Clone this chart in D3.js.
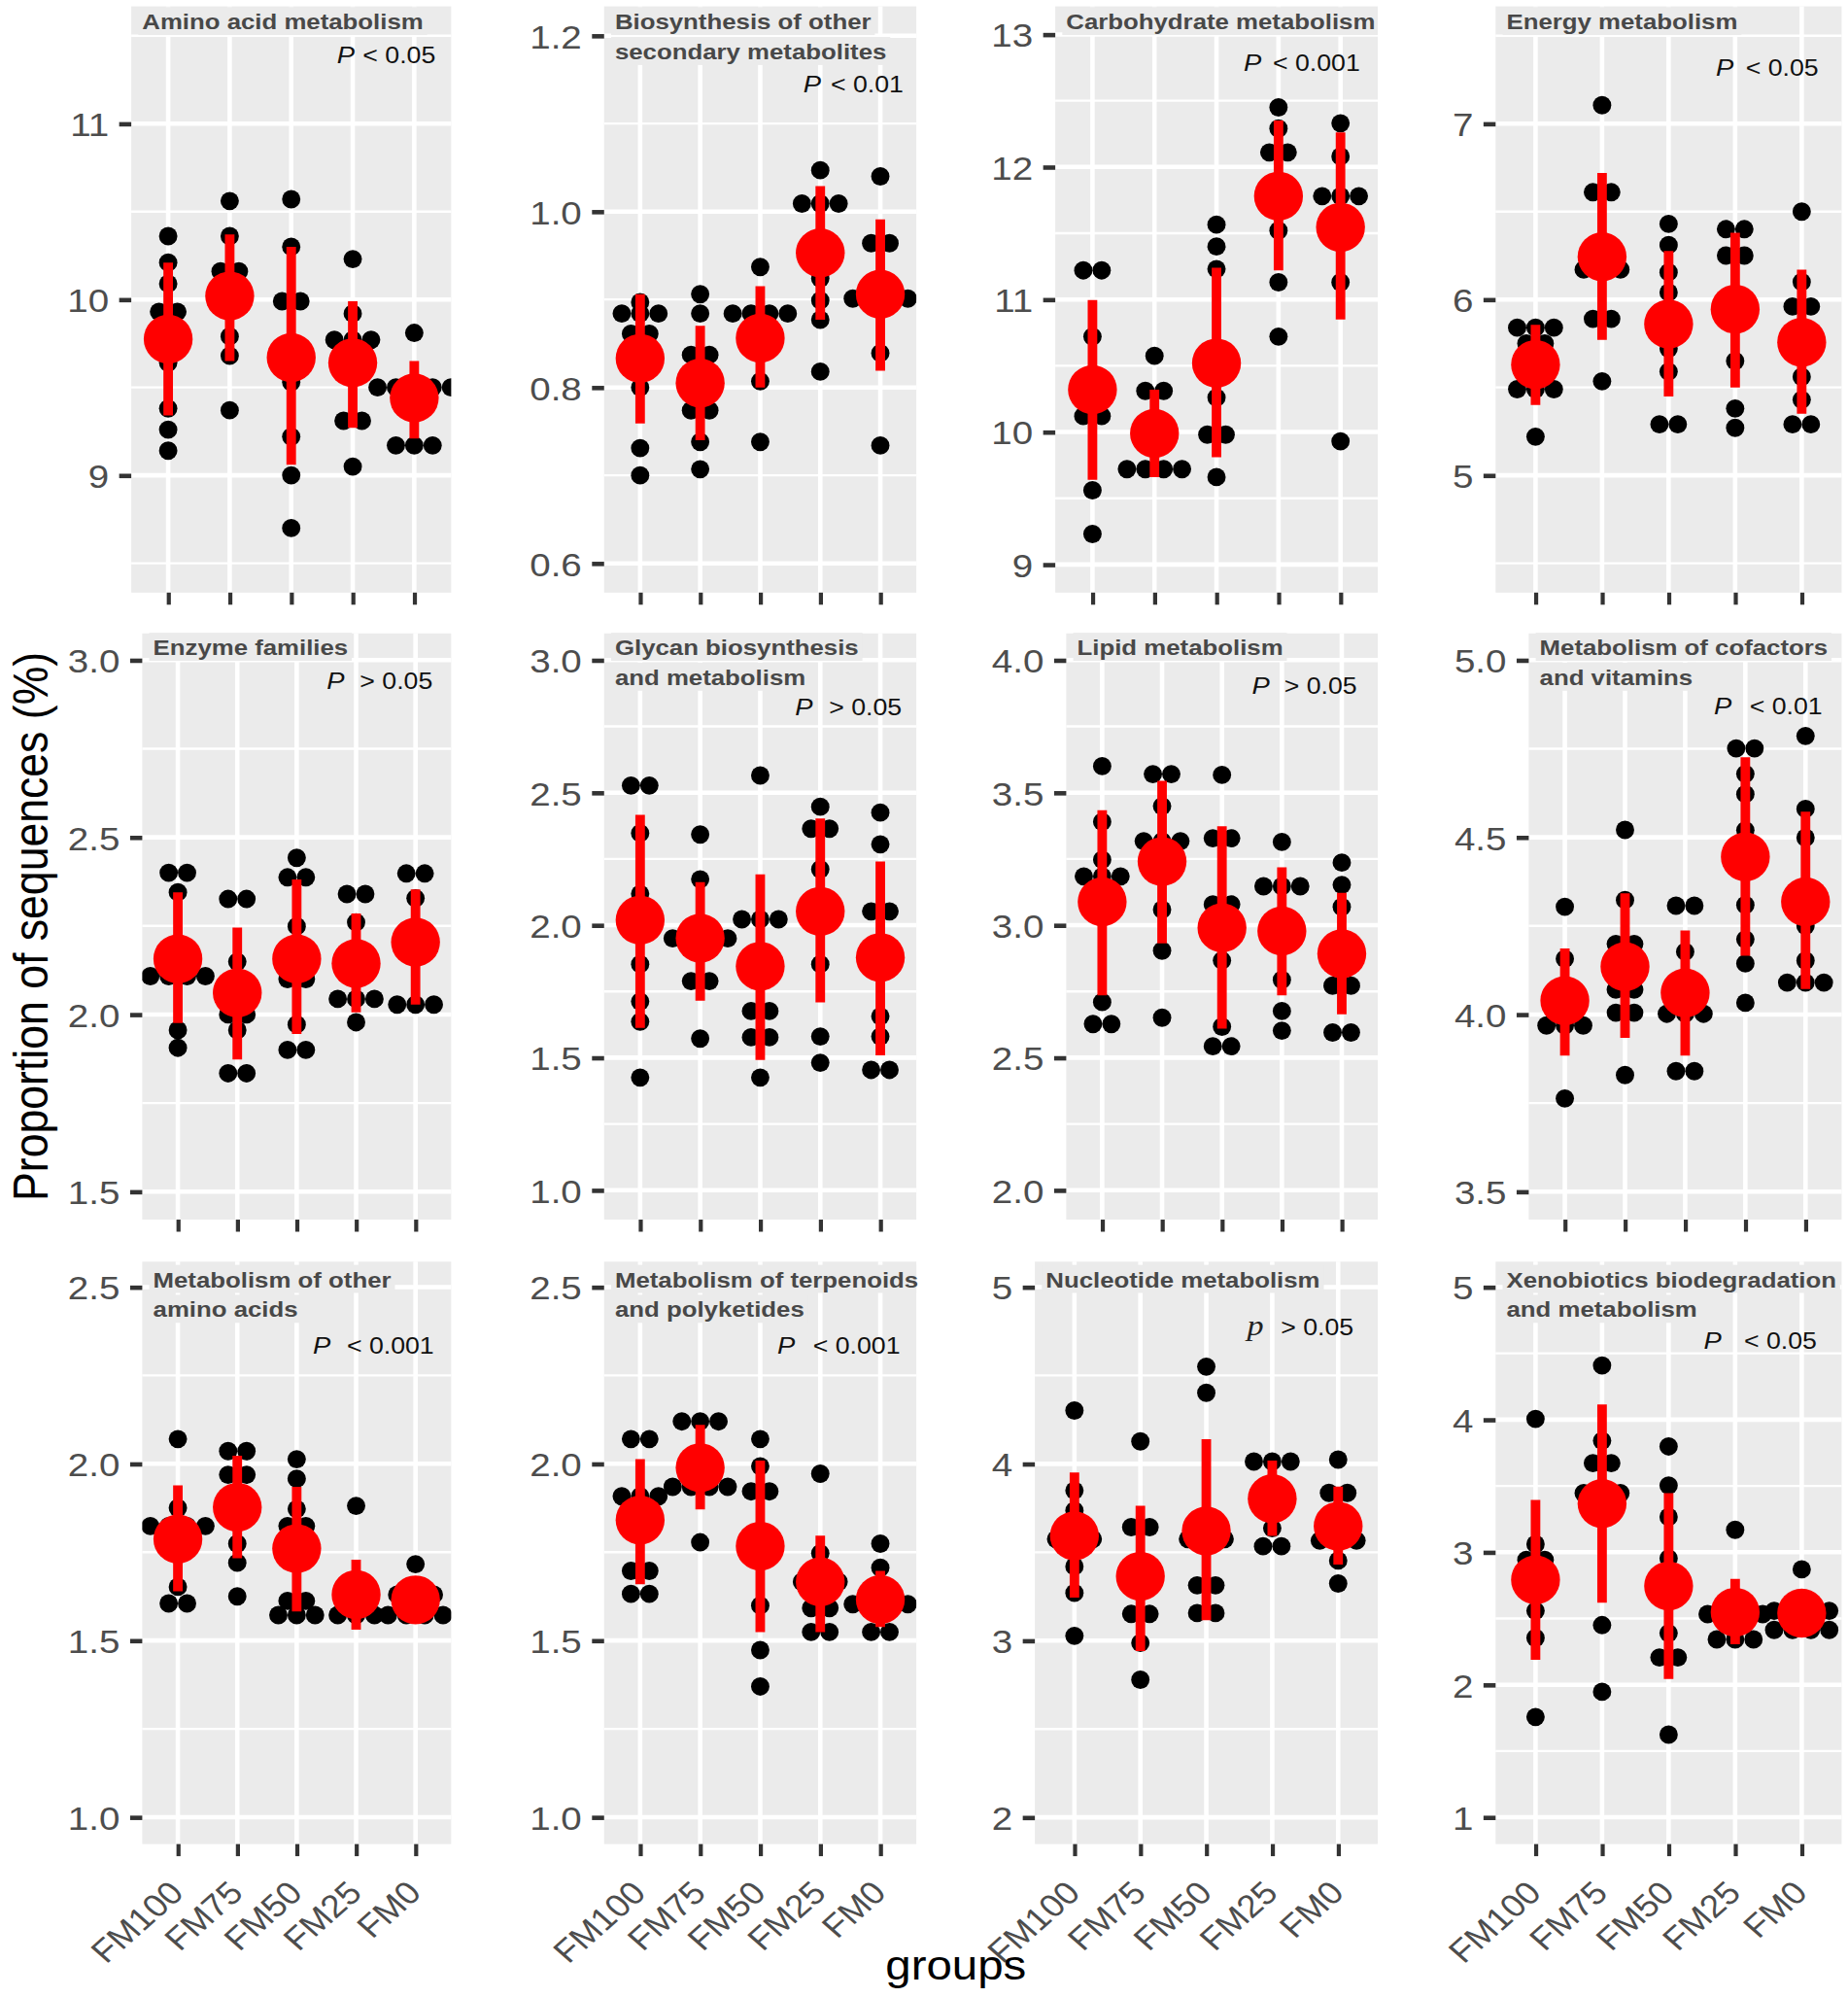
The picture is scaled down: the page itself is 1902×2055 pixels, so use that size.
<!DOCTYPE html>
<html>
<head>
<meta charset="utf-8">
<script src="https://cdn.jsdelivr.net/npm/d3@7"></script>
<style>
html, body { margin: 0; padding: 0; background: #fff; }
svg { display: block; }
text { font-family: "Liberation Sans", Arial, Helvetica, sans-serif; }
</style>
</head>
<body>
<svg id="chart"></svg>
<script>
// groups on the x axis
var groups = ["FM100", "FM75", "FM50", "FM25", "FM0"];

var titles = [
    ["Amino acid metabolism"],
    ["Biosynthesis of other", "secondary metabolites"],
    ["Carbohydrate metabolism"],
    ["Energy metabolism"],
    ["Enzyme families"],
    ["Glycan biosynthesis", "and metabolism"],
    ["Lipid metabolism"],
    ["Metabolism of cofactors", "and vitamins"],
    ["Metabolism of other", "amino acids"],
    ["Metabolism of terpenoids", "and polyketides"],
    ["Nucleotide metabolism"],
    ["Xenobiotics biodegradation", "and metabolism"]
];
var pSymbols = ["P", "P", "P", "P", "P", "P", "P", "P", "P", "P", "p", "P"];
var pTexts = ["< 0.05", "< 0.01", "< 0.001", "< 0.05", "> 0.05", "> 0.05",
              "> 0.05", "< 0.01", "< 0.001", "< 0.001", "> 0.05", "< 0.05"];

var yTickLabels = [
    ["9", "10", "11"], ["0.6", "0.8", "1.0", "1.2"], ["9", "10", "11", "12", "13"], ["5", "6", "7"],
    ["1.5", "2.0", "2.5", "3.0"], ["1.0", "1.5", "2.0", "2.5", "3.0"], ["2.0", "2.5", "3.0", "3.5", "4.0"], ["3.5", "4.0", "4.5", "5.0"],
    ["1.0", "1.5", "2.0", "2.5"], ["1.0", "1.5", "2.0", "2.5"], ["2", "3", "4", "5"], ["1", "2", "3", "4", "5"]
];
var yLimits = [
    [8.333, 11.667], [0.5667, 1.2333], [8.788, 13.212], [4.333, 7.667],
    [1.421, 3.0755], [0.889, 3.101], [1.889, 4.101], [3.421, 5.0755],
    [0.924, 2.572], [0.924, 2.572], [1.849, 5.144], [0.798, 5.192]
];

// dots: one list per group, equal values share a stack row
var aminoDots = [
    [10.36, 10.21, 10.09, 9.93, 9.93, 9.8, 9.64, 9.38, 9.26, 9.14],
    [10.56, 10.36, 10.16, 10.16, 10.03, 10.03, 9.79, 9.68, 9.37],
    [10.57, 10.30, 9.99, 9.99, 9.7, 9.7, 9.53, 9.22, 9.0, 8.70],
    [10.23, 9.92, 9.77, 9.77, 9.77, 9.62, 9.62, 9.31, 9.31, 9.05],
    [9.81, 9.50, 9.50, 9.50, 9.50, 9.50, 9.17, 9.17, 9.17]
];
var aminoMean = [9.775, 10.02, 9.67, 9.64, 9.44];
var aminoLo = [9.34, 9.65, 9.06, 9.27, 9.21];
var aminoHi = [10.21, 10.37, 10.30, 9.99, 9.65];

var bioDots = [
    [0.897, 0.884, 0.884, 0.884, 0.861, 0.861, 0.80, 0.731, 0.70],
    [0.906, 0.884, 0.837, 0.837, 0.805, 0.774, 0.774, 0.738, 0.707],
    [0.937, 0.884, 0.884, 0.884, 0.884, 0.855, 0.855, 0.807, 0.738],
    [1.047, 1.009, 1.009, 1.009, 0.95, 0.924, 0.899, 0.877, 0.818],
    [1.04, 0.964, 0.964, 0.901, 0.901, 0.901, 0.901, 0.839, 0.734]
];
var bioMean = [0.833, 0.805, 0.856, 0.953, 0.906];
var bioLo = [0.759, 0.740, 0.80, 0.877, 0.819];
var bioHi = [0.906, 0.870, 0.915, 1.029, 0.991];

var carbDots = [
    [11.22, 11.22, 10.72, 10.3, 10.12, 10.12, 9.56, 9.23],
    [10.575, 10.31, 10.31, 10.0, 9.72, 9.72, 9.72, 9.72],
    [11.565, 11.40, 11.23, 10.5, 10.26, 9.98, 9.98, 9.66],
    [12.45, 12.29, 12.11, 12.11, 11.78, 11.52, 11.13, 10.72],
    [12.33, 12.08, 11.78, 11.78, 11.78, 11.13, 9.93]
];
var carbMean = [10.32, 9.99, 10.52, 11.78, 11.545];
var carbLo = [9.64, 9.66, 9.81, 11.22, 10.85];
var carbHi = [10.995, 10.32, 11.24, 12.35, 12.26];

var energyDots = [
    [5.84, 5.84, 5.84, 5.75, 5.75, 5.49, 5.49, 5.49, 5.22],
    [7.105, 6.61, 6.61, 6.17, 6.17, 6.17, 5.89, 5.89, 5.535],
    [6.43, 6.31, 6.155, 6.04, 5.86, 5.72, 5.59, 5.29, 5.29],
    [6.40, 6.40, 6.25, 6.25, 5.94, 5.65, 5.38, 5.27],
    [6.50, 6.10, 5.96, 5.96, 5.757, 5.56, 5.43, 5.29, 5.29]
];
var energyMean = [5.63, 6.243, 5.86, 5.945, 5.757];
var energyLo = [5.40, 5.77, 5.448, 5.50, 5.35];
var energyHi = [5.856, 6.72, 6.276, 6.38, 6.17];

var enzymeDots = [
    [2.40, 2.40, 2.345, 2.108, 2.108, 2.108, 2.108, 1.956, 1.906],
    [2.326, 2.326, 2.149, 2.06, 2.0, 2.0, 1.956, 1.834, 1.834],
    [2.442, 2.387, 2.387, 2.249, 2.10, 2.10, 1.972, 1.90, 1.90],
    [2.34, 2.34, 2.26, 2.144, 2.044, 2.044, 2.044, 1.978],
    [2.398, 2.398, 2.328, 2.2, 2.028, 2.028, 2.028]
];
var enzymeMean = [2.157, 2.061, 2.157, 2.144, 2.204];
var enzymeLo = [1.976, 1.873, 1.945, 2.006, 2.028];
var enzymeHi = [2.345, 2.245, 2.381, 2.285, 2.353];

var glycanDots = [
    [2.527, 2.527, 2.347, 2.118, 2.0, 1.853, 1.712, 1.636, 1.425],
    [2.342, 2.173, 1.95, 1.95, 1.95, 1.95, 1.789, 1.789, 1.572],
    [2.565, 2.022, 2.022, 2.022, 1.845, 1.676, 1.676, 1.577, 1.577, 1.425],
    [2.447, 2.364, 2.364, 2.211, 2.05, 1.853, 1.58, 1.481],
    [2.425, 2.305, 2.052, 2.052, 1.878, 1.656, 1.58, 1.454, 1.454]
];
var glycanMean = [2.019, 1.951, 1.845, 2.052, 1.878];
var glycanLo = [1.612, 1.715, 1.491, 1.709, 1.509];
var glycanHi = [2.416, 2.162, 2.192, 2.403, 2.24];

var lipidDots = [
    [3.60, 3.39, 3.247, 3.184, 3.184, 3.184, 2.71, 2.627, 2.627],
    [3.57, 3.57, 3.449, 3.317, 3.317, 3.317, 3.24, 3.059, 2.904, 2.651],
    [3.567, 3.328, 3.328, 3.078, 3.078, 2.99, 2.867, 2.617, 2.543, 2.543],
    [3.314, 3.147, 3.147, 3.147, 2.978, 2.794, 2.676, 2.602],
    [3.236, 3.152, 3.069, 2.892, 2.772, 2.772, 2.595, 2.595]
];
var lipidMean = [3.088, 3.24, 2.99, 2.978, 2.892];
var lipidLo = [2.735, 2.931, 2.61, 2.735, 2.664];
var lipidHi = [3.434, 3.545, 3.373, 3.218, 3.122];

var cofactorDots = [
    [4.304, 4.157, 4.06, 4.06, 3.969, 3.969, 3.969, 3.763],
    [4.521, 4.323, 4.199, 4.199, 4.07, 4.07, 4.005, 4.005, 3.829],
    [4.307, 4.307, 4.177, 4.06, 4.002, 4.002, 4.002, 3.84, 3.84],
    [4.751, 4.751, 4.679, 4.622, 4.52, 4.445, 4.309, 4.212, 4.144, 4.033],
    [4.786, 4.58, 4.499, 4.318, 4.25, 4.152, 4.09, 4.09, 4.09]
];
var cofactorMean = [4.039, 4.135, 4.061, 4.445, 4.318];
var cofactorLo = [3.884, 3.934, 3.884, 4.166, 4.072];
var cofactorHi = [4.186, 4.342, 4.237, 4.726, 4.572];

var otherAaDots = [
    [2.07, 1.875, 1.824, 1.824, 1.824, 1.824, 1.652, 1.605, 1.605],
    [2.036, 2.036, 1.969, 1.969, 1.877, 1.774, 1.72, 1.625],
    [2.013, 1.958, 1.872, 1.824, 1.824, 1.76, 1.612, 1.612, 1.572, 1.572, 1.572],
    [1.881, 1.65, 1.62, 1.6, 1.572, 1.572, 1.572],
    [1.716, 1.63, 1.63, 1.63, 1.572, 1.572, 1.572, 1.572]
];
var otherAaMean = [1.787, 1.877, 1.76, 1.63, 1.615];
var otherAaLo = [1.639, 1.733, 1.582, 1.531, 1.58];
var otherAaHi = [1.939, 2.023, 1.935, 1.729, 1.655];

var terpDots = [
    [2.07, 2.07, 1.908, 1.908, 1.908, 1.841, 1.697, 1.697, 1.632, 1.632],
    [2.12, 2.12, 2.12, 2.03, 1.935, 1.935, 1.935, 1.935, 1.778],
    [2.07, 1.993, 1.922, 1.922, 1.767, 1.599, 1.473, 1.37],
    [1.972, 1.747, 1.666, 1.666, 1.666, 1.592, 1.592, 1.524, 1.524],
    [1.774, 1.706, 1.603, 1.603, 1.603, 1.603, 1.524, 1.524]
];
var terpMean = [1.841, 1.989, 1.767, 1.666, 1.616];
var terpLo = [1.659, 1.871, 1.524, 1.524, 1.538];
var terpHi = [2.013, 2.11, 2.009, 1.797, 1.697];

var nucDots = [
    [4.302, 3.849, 3.736, 3.574, 3.574, 3.574, 3.42, 3.27, 3.027],
    [4.127, 3.642, 3.642, 3.364, 3.151, 3.151, 2.987, 2.779],
    [4.55, 4.402, 3.574, 3.574, 3.574, 3.313, 3.313, 3.156, 3.156],
    [4.013, 4.013, 4.013, 3.85, 3.75, 3.636, 3.534, 3.534],
    [4.024, 3.836, 3.836, 3.647, 3.566, 3.566, 3.566, 3.453, 3.323]
];
var nucMean = [3.593, 3.364, 3.62, 3.803, 3.647];
var nucLo = [3.243, 2.941, 3.116, 3.593, 3.431];
var nucHi = [3.951, 3.763, 4.14, 4.019, 3.871];

var xenoDots = [
    [4.006, 3.061, 2.942, 2.942, 2.79, 2.558, 2.353, 1.757],
    [4.409, 3.841, 3.672, 3.672, 3.446, 3.446, 3.446, 2.45, 1.947],
    [3.798, 3.503, 3.266, 2.953, 2.389, 2.206, 2.206, 1.624],
    [3.169, 2.533, 2.533, 2.533, 2.533, 2.342, 2.342, 2.342],
    [2.871, 2.558, 2.558, 2.558, 2.558, 2.414, 2.414, 2.414, 2.414]
];
var xenoMean = [2.792, 3.367, 2.745, 2.547, 2.54];
var xenoLo = [2.188, 2.619, 2.044, 2.306, 2.396];
var xenoHi = [3.395, 4.114, 3.446, 2.799, 2.70];

var panels = [
    {dots: aminoDots, mean: aminoMean, lo: aminoLo, hi: aminoHi},
    {dots: bioDots, mean: bioMean, lo: bioLo, hi: bioHi},
    {dots: carbDots, mean: carbMean, lo: carbLo, hi: carbHi},
    {dots: energyDots, mean: energyMean, lo: energyLo, hi: energyHi},
    {dots: enzymeDots, mean: enzymeMean, lo: enzymeLo, hi: enzymeHi},
    {dots: glycanDots, mean: glycanMean, lo: glycanLo, hi: glycanHi},
    {dots: lipidDots, mean: lipidMean, lo: lipidLo, hi: lipidHi},
    {dots: cofactorDots, mean: cofactorMean, lo: cofactorLo, hi: cofactorHi},
    {dots: otherAaDots, mean: otherAaMean, lo: otherAaLo, hi: otherAaHi},
    {dots: terpDots, mean: terpMean, lo: terpLo, hi: terpHi},
    {dots: nucDots, mean: nucMean, lo: nucLo, hi: nucHi},
    {dots: xenoDots, mean: xenoMean, lo: xenoLo, hi: xenoHi}
];

///////layout (drawing units, viewBox is scaled up to the page)///////
var SX = 1.13;            // the glyphs of the source are a bit wide
var rowTop = [5, 497, 990], rowBottom = [465, 957, 1447];
var colRight = [354, 719, 1081, 1445];
var panelLeft = [103, 474, 828, 1173.5, 111.6, 474, 836.6, 1199.5, 111.6, 474, 812, 1173.5];
var titleBase = [23, 514, 1010];
var pPos = [
    [264.3, 284.6, 49.3], [630.2, 651.8, 72.8], [975.8, 998.7, 55.3], [1346.3, 1369.7, 59.5],
    [256.4, 282.3, 541], [623.8, 650.5, 561.3], [982.2, 1007.6, 544.4], [1344.8, 1372.8, 560.4],
    [245.4, 272.1, 1062.3], [609.9, 637.9, 1062.3], [978.4, 1005, 1047.4], [1336.7, 1368.4, 1058.6]
];
var dotR = 7.2, dotStep = 14.4, meanR = 19.2;

var svg = d3.select("#chart")
    .attr("width", 1902)
    .attr("height", 2055)
    .attr("viewBox", "0 0 1450 1567")
    .attr("preserveAspectRatio", "none");

function addText(parent, x, y, str, size, opts) {
    opts = opts || {};
    var t = parent.append("text")
        .attr("transform", "translate(" + x + "," + y + ") scale(" + SX + ",1)" + (opts.rotate ? " rotate(" + opts.rotate + ")" : ""))
        .attr("font-size", size)
        .attr("fill", opts.fill || "#4D4D4D")
        .attr("text-anchor", opts.anchor || "start")
        .text(str);
    if (opts.bold) t.attr("font-weight", "bold");
    if (opts.italic) t.attr("font-style", "italic");
    if (opts.family) t.style("font-family", opts.family);
    if (opts.dy) t.attr("dy", opts.dy);
    return t;
}

panels.forEach(function(p, i) {
    var row = Math.floor(i / 4), col = i % 4;
    var left = panelLeft[i], right = colRight[col], top = rowTop[row], bottom = rowBottom[row];
    var ticks = yTickLabels[i].map(Number);

    var x = d3.scalePoint().domain(groups).range([left, right]).padding(0.6);
    var y = d3.scaleLinear().domain(yLimits[i]).range([bottom, top]);

    var g = svg.append("g").attr("class", "panel");

    g.append("rect")
        .attr("x", left).attr("y", top)
        .attr("width", right - left).attr("height", bottom - top)
        .attr("fill", "#EBEBEB");

    svg.append("clipPath").attr("id", "clip" + i)
        .append("rect")
        .attr("x", left).attr("y", top)
        .attr("width", right - left).attr("height", bottom - top);

    // minor grid, half way between the breaks
    var step = ticks[1] - ticks[0];
    var minors = [];
    for (var k = -1; k < ticks.length; k++) {
        var v = ticks[0] + (k + 0.5) * step;
        if (v > yLimits[i][0] && v < yLimits[i][1]) minors.push(v);
    }
    g.selectAll(".minor").data(minors).enter().append("line")
        .attr("x1", left).attr("x2", right)
        .attr("y1", function(d) { return y(d); }).attr("y2", function(d) { return y(d); })
        .attr("stroke", "#fff").attr("stroke-width", 1.8);

    g.selectAll(".hmajor").data(ticks).enter().append("line")
        .attr("x1", left).attr("x2", right)
        .attr("y1", function(d) { return y(d); }).attr("y2", function(d) { return y(d); })
        .attr("stroke", "#fff").attr("stroke-width", 3.5);

    g.selectAll(".vmajor").data(groups).enter().append("line")
        .attr("x1", function(d) { return x(d); }).attr("x2", function(d) { return x(d); })
        .attr("y1", top).attr("y2", bottom)
        .attr("stroke", "#fff").attr("stroke-width", 3.5);

    // title lines sit on a grey box over the grid
    titles[i].forEach(function(line, li) {
        var tx = left + 8.5, ty = titleBase[row] + li * 23.5;
        var box = g.append("rect").attr("fill", "#EBEBEB");
        var t = addText(g, tx, ty, line, 17.4, {bold: true, fill: "#484848"});
        var w = t.node().getComputedTextLength() * SX;
        box.attr("x", tx - 3).attr("y", ty - 17.5)
            .attr("width", Math.min(w + 6, right - tx + 3)).attr("height", 22);
    });

    // p value
    if (pSymbols[i] === "p") {
        addText(g, pPos[i][0], pPos[i][2], pSymbols[i], 23, {italic: true, fill: "#222", family: "'Liberation Serif', 'DejaVu Serif', serif"});
    } else {
        addText(g, pPos[i][0], pPos[i][2], pSymbols[i], 18.5, {italic: true, fill: "#111"});
    }
    addText(g, pPos[i][1], pPos[i][2], pTexts[i], 18, {fill: "#111"});

    // marks
    var marks = g.append("g").attr("clip-path", "url(#clip" + i + ")");
    groups.forEach(function(grp, gi) {
        var cx = x(grp);
        var bins = d3.groups(p.dots[gi], function(d) { return d; });
        var pts = [];
        bins.forEach(function(b) {
            var n = b[1].length;
            b[1].forEach(function(v, j) {
                pts.push({x: cx + (j - (n - 1) / 2) * dotStep, y: y(v)});
            });
        });
        marks.selectAll(null).data(pts).enter().append("circle")
            .attr("cx", function(d) { return d.x; })
            .attr("cy", function(d) { return d.y; })
            .attr("r", dotR)
            .attr("fill", "#000");
    });

    marks.selectAll(".sd").data(groups).enter().append("line")
        .attr("x1", function(d) { return x(d); }).attr("x2", function(d) { return x(d); })
        .attr("y1", function(d, gi) { return y(p.lo[gi]); })
        .attr("y2", function(d, gi) { return y(p.hi[gi]); })
        .attr("stroke", "#FF0000").attr("stroke-width", 7.5);

    marks.selectAll(".mean").data(groups).enter().append("circle")
        .attr("cx", function(d) { return x(d); })
        .attr("cy", function(d, gi) { return y(p.mean[gi]); })
        .attr("r", meanR)
        .attr("fill", "#FF0000");

    // axes
    var ya = g.append("g")
        .attr("transform", "translate(" + left + ",0)")
        .call(d3.axisLeft(y).tickValues(ticks)
            .tickFormat(function(d, j) { return yTickLabels[i][j]; })
            .tickSize(9.5).tickPadding(8));
    ya.select(".domain").remove();
    ya.attr("font-size", 26).attr("font-family", null);
    ya.selectAll(".tick line").attr("stroke", "#333").attr("stroke-width", 3.5);
    ya.selectAll(".tick text")
        .attr("fill", "#4D4D4D")
        .attr("x", -17.5 / SX)
        .attr("dy", "0.36em")
        .attr("transform", "scale(" + SX + ",1)");

    var xa = g.append("g")
        .attr("transform", "translate(0," + bottom + ")")
        .call(d3.axisBottom(x).tickSize(9.5).tickPadding(0));
    xa.select(".domain").remove();
    xa.attr("font-size", 25).attr("font-family", null);
    xa.selectAll(".tick line").attr("stroke", "#333").attr("stroke-width", 3.2);
    if (row < 2) {
        xa.selectAll(".tick text").remove();
    } else {
        xa.selectAll(".tick text")
            .attr("fill", "#4D4D4D")
            .attr("x", 0).attr("y", 0)
            .attr("dy", "0.72em")
            .attr("text-anchor", "end")
            .attr("transform", "translate(-9,27) scale(" + SX + ",1) rotate(-45)");
    }
});

// axis titles
addText(svg, 37, 727, "Proportion of sequences (%)", 34, {rotate: -90, anchor: "middle", fill: "#000"});
addText(svg, 750, 1553, "groups", 32, {anchor: "middle", fill: "#000"});
</script>
</body>
</html>
